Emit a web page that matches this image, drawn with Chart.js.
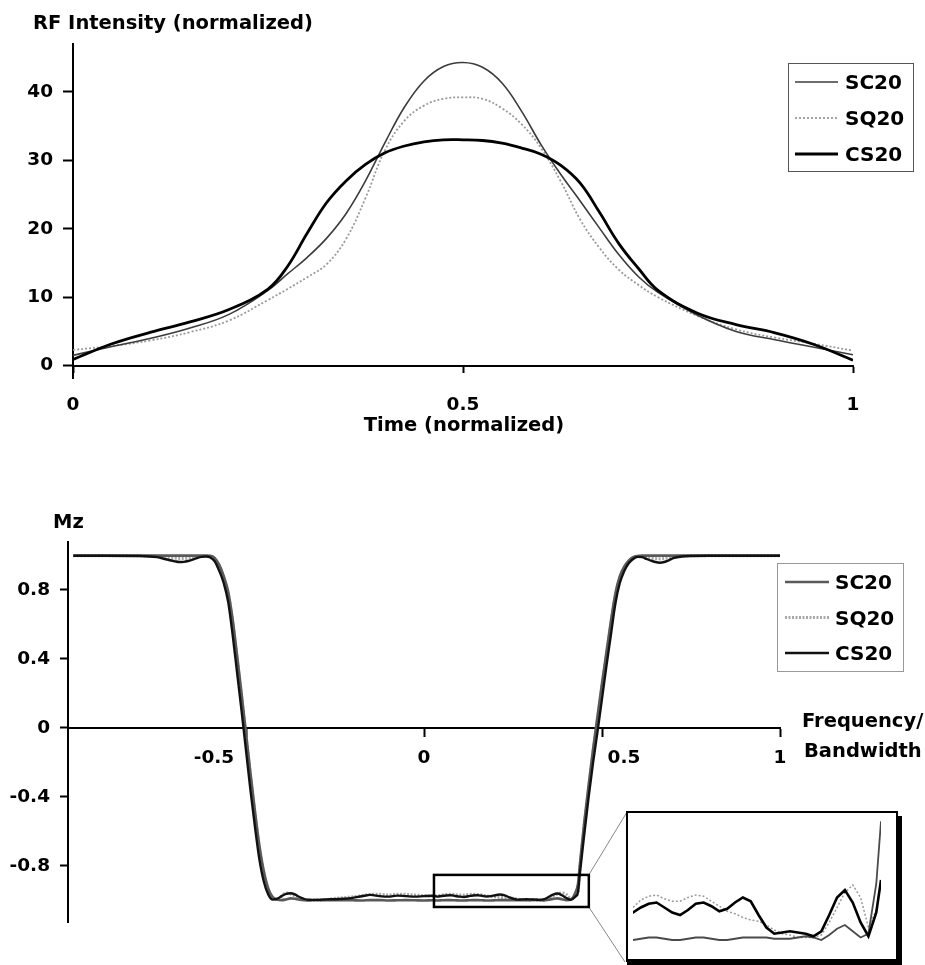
<!DOCTYPE html>
<html>
<head>
<meta charset="utf-8">
<script src="https://cdn.jsdelivr.net/npm/chart.js@4.4.1/dist/chart.umd.min.js"></script>
<style>
  html, body { margin: 0; padding: 0; background: #fff; }
  #page { position: relative; width: 925px; height: 965px; overflow: hidden; }
  canvas { position: absolute; }
  #rfChart { left: 0; top: 0; }
  #mzChart { left: 0; top: 480px; }
  #zoomChart { left: 615px; top: 800px; }
</style>
</head>
<body>
<div id="page">
  <canvas id="rfChart" width="925" height="470"></canvas>
  <canvas id="mzChart" width="925" height="485"></canvas>
  <canvas id="zoomChart" width="310" height="165"></canvas>
</div>
<script>
// ---- top panel: RF pulse shapes ----
const rfTime = [0, 0.05, 0.1, 0.15, 0.2, 0.25, 0.275, 0.3, 0.325, 0.35, 0.375, 0.4, 0.425, 0.45, 0.475,
  0.5,
  0.525, 0.55, 0.575, 0.6, 0.625, 0.65, 0.675, 0.7, 0.725, 0.75, 0.8, 0.85, 0.9, 0.95, 1];
const rfSC20 = [1.5, 2.8, 4.0, 5.5, 7.5, 11.0, 13.4, 15.8, 18.6, 22.2, 27.0, 32.6, 37.8, 41.6, 43.7,
  44.3,
  43.6, 41.3, 37.2, 32.3, 28.0, 24.1, 20.1, 16.2, 13.0, 10.7, 7.4, 5.0, 3.8, 2.7, 1.6];
const rfSQ20 = [2.3, 2.9, 3.7, 4.9, 6.6, 9.6, 11.2, 12.9, 14.8, 18.5, 24.5, 31.5, 35.8, 38.0, 39.0,
  39.2,
  39.0, 37.6, 35.3, 31.8, 27.0, 21.4, 17.2, 14.0, 11.8, 10.0, 7.3, 5.3, 4.1, 3.2, 2.2];
const rfCS20 = [0.9, 3.2, 4.9, 6.4, 8.2, 11.2, 14.5, 19.3, 23.8, 27.0, 29.4, 31.1, 32.1, 32.7, 33.0,
  33.0,
  32.9, 32.5, 31.8, 30.9, 29.3, 26.7, 22.4, 17.8, 14.2, 11.0, 7.7, 6.0, 4.8, 3.1, 0.8];
const rfTicks = [0, 10, 20, 30, 40];
const rfTickLabels = ["0", "10", "20", "30", "40"];
const timeTicks = [0, 0.5, 1];
const timeTickLabels = ["0", "0.5", "1"];

// ---- bottom panel: Mz profiles ----
const mzFreq = [
  // passband + left edge
  -0.985, -0.9, -0.8, -0.75, -0.725, -0.7, -0.6875, -0.675, -0.6625, -0.65,
  -0.6375, -0.625, -0.6125, -0.6, -0.5875, -0.575, -0.5625, -0.55, -0.5375, -0.525,
  -0.5125, -0.5, -0.4875, -0.475, -0.4625, -0.45, -0.4375, -0.425,
  // stopband, left half
  -0.4125, -0.4, -0.3875, -0.375, -0.3625, -0.35, -0.325, -0.3, -0.275, -0.25,
  -0.225, -0.2, -0.175, -0.15, -0.125, -0.1, -0.075, -0.05, -0.025, 0, 0.025,
  // stopband, right half (zoomed in the inset)
  0.0375, 0.05, 0.0625, 0.075, 0.0875, 0.1, 0.1125, 0.125, 0.1375, 0.15,
  0.1625, 0.175, 0.1875, 0.2, 0.2125, 0.225, 0.2375, 0.25, 0.2625, 0.275,
  0.2875, 0.3, 0.3125, 0.325, 0.3375, 0.35, 0.3625, 0.375, 0.3875, 0.4, 0.4125,
  // right edge + passband
  0.425, 0.4325, 0.4375, 0.45, 0.4625, 0.475, 0.4875, 0.5, 0.5125, 0.525, 0.5375,
  0.55, 0.5625, 0.575, 0.5875, 0.6, 0.6125, 0.625, 0.6375, 0.65, 0.6625,
  0.675, 0.6875, 0.7, 0.725, 0.75, 0.8, 0.9, 1.0
];
const mzSC20 = [
  0.999, 0.999, 0.999, 0.999, 0.999, 0.999, 0.999, 0.999, 0.999, 0.999,
  0.999, 0.999, 0.999, 0.998, 0.985, 0.945, 0.88, 0.79, 0.63, 0.42,
  0.20, -0.03, -0.26, -0.48, -0.68, -0.83, -0.93, -0.98,
  -0.996, -0.998, -0.994, -0.988, -0.99, -0.996, -1.0, -0.998, -0.998, -0.999,
  -0.998, -0.999, -1.0, -0.998, -0.998, -1.0, -0.999, -0.998, -0.999, -1.0, -0.999,
  -1.0, -0.999, -0.998, -0.998, -0.999, -1.0, -1.0, -0.999, -0.998, -0.998,
  -0.999, -1.0, -1.0, -0.999, -0.998, -0.998, -0.998, -0.998, -0.999, -0.999,
  -0.999, -0.998, -0.997, -0.998, -1.0, -0.996, -0.991, -0.988, -0.993, -0.998, -0.995,
  -0.955, -0.905, -0.80, -0.55, -0.33, -0.12, 0.07, 0.26, 0.44, 0.62, 0.78,
  0.88, 0.935, 0.97, 0.99, 0.997, 0.999, 0.999, 0.999, 0.999, 0.999,
  0.999, 0.999, 0.999, 0.999, 0.999, 0.999, 0.999, 0.999
];
const mzSQ20 = [
  0.999, 0.999, 0.998, 0.995, 0.99, 0.984, 0.982, 0.982, 0.985, 0.99,
  0.994, 0.997, 0.997, 0.993, 0.978, 0.935, 0.87, 0.775, 0.61, 0.40,
  0.18, -0.05, -0.28, -0.50, -0.70, -0.85, -0.94, -0.985,
  -0.993, -0.975, -0.957, -0.962, -0.974, -0.986, -0.998, -0.998, -0.995, -0.988,
  -0.984, -0.979, -0.973, -0.965, -0.964, -0.969, -0.964, -0.965, -0.969, -0.972, -0.975,
  -0.974, -0.968, -0.965, -0.964, -0.967, -0.969, -0.969, -0.966, -0.964, -0.965,
  -0.969, -0.973, -0.977, -0.979, -0.982, -0.984, -0.985, -0.988, -0.992, -0.995,
  -0.996, -0.998, -0.998, -0.998, -0.996, -0.986, -0.974, -0.962, -0.956, -0.966, -0.990,
  -0.976, -0.955, -0.82, -0.57, -0.35, -0.14, 0.05, 0.24, 0.42, 0.60, 0.76,
  0.87, 0.93, 0.965, 0.985, 0.995, 0.995, 0.99, 0.985, 0.982, 0.98,
  0.983, 0.988, 0.992, 0.997, 0.998, 0.999, 0.999, 0.999
];
const mzCS20 = [
  0.998, 0.998, 0.997, 0.99, 0.978, 0.966, 0.962, 0.963, 0.968, 0.976,
  0.985, 0.992, 0.994, 0.988, 0.965, 0.91, 0.84, 0.73, 0.54, 0.32,
  0.10, -0.13, -0.36, -0.57, -0.76, -0.89, -0.965, -0.995,
  -0.99, -0.975, -0.962, -0.958, -0.965, -0.98, -0.996, -0.997, -0.994, -0.993,
  -0.99, -0.985, -0.976, -0.968, -0.975, -0.978, -0.972, -0.975, -0.978, -0.975, -0.973,
  -0.978, -0.974, -0.971, -0.970, -0.974, -0.978, -0.980, -0.976, -0.971, -0.970,
  -0.973, -0.977, -0.975, -0.970, -0.966, -0.969, -0.980, -0.990, -0.995, -0.994,
  -0.993, -0.994, -0.995, -0.997, -0.993, -0.980, -0.966, -0.960, -0.970, -0.986, -0.997,
  -0.978, -0.952, -0.85, -0.62, -0.40, -0.20, -0.02, 0.17, 0.36, 0.54, 0.72,
  0.84, 0.91, 0.955, 0.98, 0.992, 0.99, 0.98, 0.97, 0.962, 0.958,
  0.962, 0.972, 0.984, 0.994, 0.997, 0.998, 0.998, 0.998
];
const mzTicks = [-0.8, -0.4, 0, 0.4, 0.8];
const mzTickLabels = ["-0.8", "-0.4", "0", "0.4", "0.8"];
const freqTicks = [-0.5, 0, 0.5, 1];
const freqTickLabels = ["-0.5", "0", "0.5", "1"];

// window marked on the main plot, and the range shown in the inset
const zoomFreq = [0.028, 0.463];
const zoomMz = [-1.038, -0.852];
const insetFreq = [0.0375, 0.4325];
const insetMz = [-1.0176, -0.8976];

const FONT = "'DejaVu Sans', sans-serif";
Chart.defaults.font.family = FONT;
Chart.defaults.font.size = 18.5;
Chart.defaults.font.weight = "bold";
Chart.defaults.color = "#000";
Chart.defaults.animation = false;

function toPoints(xs, ys) {
  return xs.map((x, i) => ({ x: x, y: ys[i] }));
}

function lineSet(label, xs, ys, style) {
  return Object.assign(
    { label: label, data: toPoints(xs, ys), pointRadius: 0, fill: false },
    style
  );
}

function yAxis(min, max, ticks, labels, width, tickLen) {
  return {
    type: "linear",
    position: "left",
    min: min,
    max: max,
    afterFit: (s) => { s.width = width; },
    afterBuildTicks: (s) => { s.ticks = ticks.map((v) => ({ value: v })); },
    ticks: { callback: (v, i) => labels[i], padding: 10, autoSkip: false },
    grid: { drawOnChartArea: false, tickLength: tickLen, tickWidth: 2, tickColor: "#000" },
    border: { color: "#000", width: 2 },
  };
}

// free text (panel titles, axis titles)
function notes(items) {
  return {
    id: "notes",
    afterDraw(chart) {
      const ctx = chart.ctx;
      ctx.save();
      ctx.fillStyle = "#000";
      ctx.textBaseline = "alphabetic";
      items.forEach((it) => {
        ctx.font = "bold " + it.size + "px " + FONT;
        ctx.textAlign = it.align || "left";
        ctx.fillText(it.text, it.x, it.y);
      });
      ctx.restore();
    },
  };
}

// boxed legend at a fixed spot, taken from the datasets
function boxLegend(b) {
  return {
    id: "boxLegend",
    afterDraw(chart) {
      const ctx = chart.ctx;
      ctx.save();
      ctx.fillStyle = "#fff";
      ctx.fillRect(b.x, b.y, b.w, b.h);
      ctx.strokeStyle = b.border;
      ctx.lineWidth = 1;
      ctx.strokeRect(b.x + 0.5, b.y + 0.5, b.w, b.h);
      chart.data.datasets.forEach((ds, i) => {
        const y = b.y + b.firstRow + i * b.rowGap;
        ctx.strokeStyle = ds.borderColor;
        ctx.lineWidth = ds.borderWidth;
        ctx.setLineDash(ds.borderDash || []);
        ctx.beginPath();
        ctx.moveTo(b.x + b.lineFrom, y);
        ctx.lineTo(b.x + b.lineTo, y);
        ctx.stroke();
        ctx.setLineDash([]);
        ctx.fillStyle = "#000";
        ctx.font = "bold 20px " + FONT;
        ctx.textAlign = "left";
        ctx.textBaseline = "alphabetic";
        ctx.fillText(ds.label, b.x + b.textX, y + 7);
      });
      ctx.restore();
    },
  };
}

// ---------- top chart ----------
new Chart(document.getElementById("rfChart"), {
  type: "line",
  data: {
    datasets: [
      lineSet("SC20", rfTime, rfSC20, { borderColor: "#3c3c3c", borderWidth: 1.6, order: 1 }),
      lineSet("SQ20", rfTime, rfSQ20, { borderColor: "#9a9a9a", borderWidth: 1.8, borderDash: [2, 2], order: 2 }),
      lineSet("CS20", rfTime, rfCS20, { borderColor: "#000", borderWidth: 2.8, order: 0 }),
    ],
  },
  options: {
    responsive: false,
    events: [],
    layout: { padding: { left: 0, right: 72, top: 44, bottom: 92 } },
    plugins: { legend: { display: false }, tooltip: { enabled: false } },
    elements: { line: { tension: 0.4 } },
    scales: {
      x: {
        type: "linear",
        position: { y: 0 },
        min: 0,
        max: 1,
        afterBuildTicks: (s) => { s.ticks = timeTicks.map((v) => ({ value: v })); },
        ticks: { callback: (v, i) => timeTickLabels[i], padding: 22, maxRotation: 0, autoSkip: false },
        grid: { drawOnChartArea: false, tickLength: 6, tickWidth: 2, tickColor: "#000" },
        border: { color: "#000", width: 2 },
      },
      y: yAxis(-1.8, 47, rfTicks, rfTickLabels, 73, 10),
    },
  },
  plugins: [
    notes([
      { text: "RF Intensity (normalized)", x: 33, y: 29, size: 19.5 },
      { text: "Time (normalized)", x: 464, y: 431, size: 19.5, align: "center" },
    ]),
    boxLegend({ x: 788, y: 63, w: 125, h: 108, firstRow: 19, rowGap: 36,
      lineFrom: 7, lineTo: 50, textX: 57, border: "#555" }),
  ],
});

// ---------- bottom chart ----------
const zoomMark = {
  id: "zoomMark",
  afterDatasetsDraw(chart) {
    const ctx = chart.ctx;
    const xs = chart.scales.x;
    const ys = chart.scales.y;
    const l = xs.getPixelForValue(zoomFreq[0]);
    const r = xs.getPixelForValue(zoomFreq[1]);
    const t = ys.getPixelForValue(zoomMz[1]);
    const b = ys.getPixelForValue(zoomMz[0]);
    ctx.save();
    ctx.strokeStyle = "#888";
    ctx.lineWidth = 1;
    ctx.beginPath();
    ctx.moveTo(r, t); ctx.lineTo(627, 332);
    ctx.moveTo(r, b); ctx.lineTo(625, 482);
    ctx.stroke();
    ctx.strokeStyle = "#000";
    ctx.lineWidth = 2.5;
    ctx.strokeRect(l, t, r - l, b - t);
    ctx.restore();
  },
};

const freqLabelShift = [-32, 0, 22, 0];
const freqLabels = {
  id: "freqLabels",
  afterDraw(chart) {
    const ctx = chart.ctx;
    const xs = chart.scales.x;
    ctx.save();
    ctx.fillStyle = "#000";
    ctx.font = "bold 18.5px " + FONT;
    ctx.textAlign = "center";
    ctx.textBaseline = "alphabetic";
    freqTicks.forEach((v, i) => {
      ctx.fillText(freqTickLabels[i], xs.getPixelForValue(v) + freqLabelShift[i], 283);
    });
    ctx.restore();
  },
};

const mzStyles = {
  SC20: { borderColor: "#5a5a5a", borderWidth: 2.6, order: 1 },
  SQ20: { borderColor: "#a8a8a8", borderWidth: 3, borderDash: [2, 1.5], order: 2 },
  CS20: { borderColor: "#111", borderWidth: 2.4, order: 0 },
};

new Chart(document.getElementById("mzChart"), {
  type: "line",
  data: {
    datasets: [
      lineSet("SC20", mzFreq, mzSC20, mzStyles.SC20),
      lineSet("SQ20", mzFreq, mzSQ20, mzStyles.SQ20),
      lineSet("CS20", mzFreq, mzCS20, mzStyles.CS20),
    ],
  },
  options: {
    responsive: false,
    events: [],
    layout: { padding: { left: 0, right: 145, top: 62, bottom: 43 } },
    plugins: { legend: { display: false }, tooltip: { enabled: false } },
    elements: { line: { cubicInterpolationMode: "monotone" } },
    scales: {
      x: {
        type: "linear",
        position: { y: 0 },
        min: -1,
        max: 1,
        afterBuildTicks: (s) => { s.ticks = freqTicks.map((v) => ({ value: v })); },
        ticks: { display: false },
        grid: { drawOnChartArea: false, tickLength: 8, tickWidth: 2, tickColor: "#000" },
        border: { color: "#000", width: 2 },
      },
      y: yAxis(-1.125, 1.078, mzTicks, mzTickLabels, 68, 8),
    },
  },
  plugins: [
    zoomMark,
    freqLabels,
    notes([
      { text: "Mz", x: 53, y: 48, size: 19.5 },
      { text: "Frequency/", x: 802, y: 247, size: 19.5 },
      { text: "Bandwidth", x: 804, y: 277, size: 19.5 },
    ]),
    boxLegend({ x: 777, y: 83, w: 126, h: 108, firstRow: 19, rowGap: 35.5,
      lineFrom: 8, lineTo: 52, textX: 58, border: "#999" }),
  ],
});

// ---------- inset ----------
const insetFrame = {
  id: "insetFrame",
  beforeDatasetsDraw(chart) {
    const a = chart.chartArea;
    const ctx = chart.ctx;
    ctx.save();
    ctx.fillStyle = "#fff";
    ctx.fillRect(a.left - 6, a.top, a.right - a.left + 22, a.bottom - a.top);
    ctx.restore();
  },
  afterDraw(chart) {
    const a = chart.chartArea;
    const ctx = chart.ctx;
    const l = a.left - 6, r = a.right + 16, t = a.top, b = a.bottom - 1;
    ctx.save();
    ctx.strokeStyle = "#000";
    ctx.lineWidth = 2;
    ctx.strokeRect(l, t, r - l, b - t);
    ctx.fillStyle = "#000";
    ctx.fillRect(r, t + 4, 5, chart.height - t);
    ctx.fillRect(l, b - 2, r - l + 5, 6);
    ctx.restore();
  },
};

new Chart(document.getElementById("zoomChart"), {
  type: "line",
  data: {
    datasets: [
      lineSet("SC20", mzFreq, mzSC20, { borderColor: "#4a4a4a", borderWidth: 1.8, order: 1, clip: 0 }),
      lineSet("SQ20", mzFreq, mzSQ20, { borderColor: "#9a9a9a", borderWidth: 1.5, borderDash: [2, 2], order: 2, clip: 0 }),
      lineSet("CS20", mzFreq, mzCS20, { borderColor: "#000", borderWidth: 2.6, order: 0, clip: 0 }),
    ],
  },
  options: {
    responsive: false,
    events: [],
    layout: { padding: { left: 18, right: 44, top: 12, bottom: 3 } },
    plugins: { legend: { display: false }, tooltip: { enabled: false } },
    elements: { line: { tension: 0 } },
    scales: {
      x: { type: "linear", display: false, min: insetFreq[0], max: insetFreq[1] },
      y: { type: "linear", display: false, min: insetMz[0], max: insetMz[1] },
    },
  },
  plugins: [insetFrame],
});
</script>
</body>
</html>
